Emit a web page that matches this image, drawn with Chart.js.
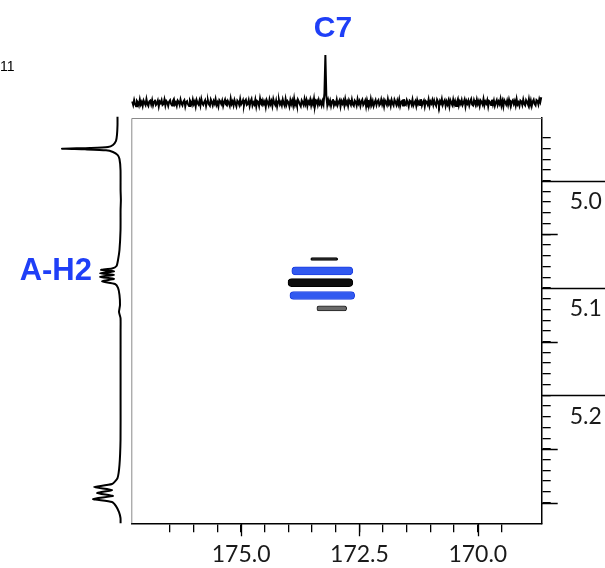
<!DOCTYPE html>
<html>
<head>
<meta charset="utf-8">
<script src="https://cdn.jsdelivr.net/npm/chart.js@4.4.1/dist/chart.umd.min.js"></script>
<style>
  html, body { margin: 0; padding: 0; background: #fff; }
  #wrap { position: relative; width: 605px; height: 568px; overflow: hidden; }
  #wrap canvas { position: absolute; left: 0; top: 0; }
</style>
</head>
<body>
<div id="wrap">
  <canvas id="hmbc" width="605" height="568" style="width:605px;height:568px"></canvas>
  <canvas id="carbon" width="605" height="568" style="width:605px;height:568px"></canvas>
  <canvas id="proton" width="605" height="568" style="width:605px;height:568px"></canvas>
</div>
<script>
// ---- spectral windows (ppm) ----
const carbonRange = [168.65, 177.32];      // F1, 13C
const protonRange = [4.9416, 5.3193];      // F2, 1H
const carbonLabelTicks = [175.0, 172.5, 170.0];
const protonLabelTicks = [5.0, 5.1, 5.2];

// ---- cross peak C7 / A-H2: contour bands ----
const contourC13From = [173.53, 173.93, 174.01, 173.97, 173.40];
const contourC13To   = [172.96, 172.64, 172.64, 172.60, 172.77];
const contourH1      = [5.073, 5.084, 5.095, 5.107, 5.119];
const contourLevel   = [0, 1, 2, 1, 3];

// ---- 13C projection (relative intensity, % of C7) ----
const carbonTraceStart = 177.30;
const carbonTraceStep = 0.02;
const carbonTrace = [
   3,-4, 6,-2,-7, 4, 1,-5, 7,-3, 2,-6, 5, 0,-4, 8,-2,-6, 3, 5,
  -3, 6,-5, 2, 7,-4,-1, 5,-7, 3, 0, 6,-4,-2, 7,-5, 4, 1,-6, 3,
   6,-2,-5, 4, 8,-3, 1,-6, 5, 2,-4, 7,-1,-5, 3, 6,-7, 2, 4,-3,
  -6, 5, 1,-4, 7,-2, 3,-7, 6, 0,-3, 5,-5, 8,-1,-4, 2, 6,-6, 3,
   5,-3,-6, 7, 2,-5, 4,-1, 8,-4, 1,-7, 6, 3,-2, 5,-6, 2, 7,-3,
  -5, 4, 0,-6, 9,-2, 3,-5, 6,-1,-7, 5, 2,-4, 8,-3, 1, 6,-5, 4,
   7,-4,-2, 6,-6, 3, 8,-5, 1,-3, 7,-7, 4, 2,-6, 9,-1,-4, 5,-2,
   3,-8, 6, 1,-5, 7,-2, 4,-6, 8, 0,-4, 5,-7, 3, 6,-3, 2,-5, 7,
  -1,-6, 8,-3, 4, 1,-7, 6,-2, 5,-5, 9,-4, 2,-6, 7, 3,-3,-7, 5,
   1,-4, 8,-2, 6,-6, 3,-1, 7,-5, 4,-3, 9,-7, 2, 5,-4, 6,-2, 3,
  -5, 4,-3,20,100,15,-4, 6,-2, 5,-6, 3, 8,-5, 1,-3, 7,-4, 2, 6,
  -7, 4,-1, 5,-5, 8,-2, 3,-6, 6, 1,-4, 7,-3,-6, 5, 2,-5, 8,-1,
   4,-6, 3, 7,-4, 0, 5,-7, 6,-2, 2,-5, 8,-3, 4,-6, 1, 6,-4, 3,
   6,-5,-2, 7,-3, 4,-7, 5, 1,-4, 8,-2, 3,-6, 6,-1,-5, 7, 2,-4,
   5,-3, 7,-6, 2, 4,-5, 8,-2,-4, 6, 1,-7, 5, 3,-3, 7,-5, 0, 4,
  -6, 6,-2, 3,-4, 8,-5, 1, 5,-7, 4, 2,-3, 7,-6, 3,-1, 6,-4, 5,
  -2,-6, 7, 3,-5, 4,-1, 8,-4, 2, 6,-6, 3,-3, 5,-7, 6, 1,-4, 7,
  -3, 4,-6, 2, 8,-5, 3,-2, 6,-4, 1, 7,-7, 4,-1, 5,-5, 3, 8,-3,
  -5, 6, 0,-4, 7,-2, 4,-6, 5, 2,-3, 8,-5, 3,-1, 6,-7, 4, 2,-4,
   7,-3, 5,-6, 1, 6,-4, 3,-2, 8,-5, 4,-7, 6, 2,-3, 5,-4, 7,-1,
  -6, 3, 6,-2, 4,-5, 8,-3, 1,-6, 5, 3,-4, 7,-2,-5, 6, 2,-3, 8,
  -4, 5,-6, 3, 7,-2,-5, 6, 4,-3, 8, 2,12
];

// ---- 1H projection (ppm, relative intensity %) ----
const protonTracePpm = [
  4.9404, 4.9481, 4.9574, 4.9630, 4.9667, 4.9686, 4.9695, 4.9702, 4.9708, 4.9717,
  4.9733, 4.9760, 4.9798, 4.9900, 5.0087, 5.0180, 5.0273, 5.0460, 5.0646, 5.0739,
  5.0795, 5.0818, 5.0832, 5.0846, 5.0863, 5.0878, 5.0897, 5.0915, 5.0939, 5.0963,
  5.1000, 5.1065, 5.1158, 5.1224, 5.1280, 5.1390, 5.1670, 5.2043, 5.2416, 5.2650,
  5.2771, 5.2827, 5.2855, 5.2883, 5.2911, 5.2939, 5.2967, 5.2995, 5.3033, 5.3089,
  5.3145, 5.3193
];
const protonTraceInt = [
   4.3,  4.3,  5.2,  6.9, 12.1, 20.7, 51.7, 100, 60.3, 24.1,
  12.1,  4.3,  0.9, -0.9, -1.0, -1.5, -1.0, -0.9,  0.9,  3.4,
   6.0, 13.8, 32.8, 10.3, 34.5, 10.3, 34.5, 10.3, 31.0,  8.6,
   3.4,  0.9,  0.0,  1.7, -0.9, -1.0, -1.0, -1.0, -0.9,  0.9,
   4.3, 13.8, 44.8, 13.8, 39.7, 12.1, 46.6, 13.8,  6.9,  1.7,
  -0.9, -1.0
];

// ---- styling ----
const levelStyles = [
  { fill: '#161616', edge: '#000000', thickness: 3 },
  { fill: '#3159f0', edge: '#1c3fe0', thickness: 8 },
  { fill: '#0d0d0d', edge: '#000000', thickness: 8 },
  { fill: '#6a6a6a', edge: '#222222', thickness: 5 }
];
const labelBlue = '#1f3ff7';
const tickFont = { family: 'Lato, "Open Sans", sans-serif', size: 23 };

const W = 605, H = 568;
const AREA = { left: 131.3, right: 541.7, top: 118, bottom: 523.3 };

const isMultiple = (v, step) => Math.abs(v / step - Math.round(v / step)) < 1e-6;
const inList = (v, list) => list.some(t => Math.abs(t - v) < 1e-6);
const keepGrid = step => scale => {
  scale.ticks = scale.ticks.filter(t => isMultiple(t.value, step));
};

// longer tick marks, open frame sides and peak labels
const hmbcDecor = {
  id: 'hmbcDecor',
  afterDraw(chart) {
    const { ctx, chartArea: a, scales: { x, y } } = chart;
    ctx.save();
    ctx.strokeStyle = '#8a8a8a';
    ctx.lineWidth = 1;
    ctx.beginPath();
    ctx.moveTo(a.left + 0.5, a.bottom);
    ctx.lineTo(a.left + 0.5, a.top + 0.5);
    ctx.lineTo(a.right, a.top + 0.5);
    ctx.stroke();

    ctx.strokeStyle = '#000';
    ctx.lineWidth = 1.3;
    ctx.beginPath();
    x.ticks.forEach(t => {
      if (inList(t.value, carbonLabelTicks)) {
        const px = Math.round(x.getPixelForValue(t.value)) + 0.5;
        ctx.moveTo(px, a.bottom);
        ctx.lineTo(px, a.bottom + 13);
      }
    });
    y.ticks.forEach(t => {
      const py = Math.round(y.getPixelForValue(t.value)) + 0.5;
      if (inList(t.value, protonLabelTicks)) {
        ctx.moveTo(a.right, py);
        ctx.lineTo(chart.width, py);
      } else if (isMultiple(t.value, 0.05)) {
        ctx.moveTo(a.right, py);
        ctx.lineTo(a.right + 16, py);
      }
    });
    ctx.stroke();

    ctx.fillStyle = labelBlue;
    ctx.font = 'bold 30px "Liberation Sans", Arial, sans-serif';
    ctx.textBaseline = 'middle';
    ctx.textAlign = 'center';
    ctx.fillText('C7', x.getPixelForValue(173.06), 29);
    ctx.font = 'bold 31px "Liberation Sans", Arial, sans-serif';
    ctx.textAlign = 'right';
    ctx.fillText('A-H2', 92, y.getPixelForValue(5.0848));

    ctx.fillStyle = '#000';
    ctx.font = '14px "Liberation Sans", Arial, sans-serif';
    ctx.textAlign = 'left';
    ctx.fillText('11', 0, 67);
    ctx.restore();
  }
};

// ---- 2D map ----
const contourSets = levelStyles.map((st, lv) => ({
  data: contourH1
    .map((h, i) => ({ y: h, x: [contourC13From[i], contourC13To[i]], lv: contourLevel[i] }))
    .filter(p => p.lv === lv),
  backgroundColor: st.fill,
  borderColor: st.edge,
  borderWidth: 1,
  barThickness: st.thickness,
  borderRadius: 40,
  borderSkipped: false,
  grouped: false
}));

new Chart(document.getElementById('hmbc'), {
  type: 'bar',
  data: { datasets: contourSets },
  options: {
    indexAxis: 'y',
    responsive: false,
    animation: false,
    events: [],
    layout: { padding: { left: AREA.left, top: AREA.top, right: 0, bottom: 0 } },
    plugins: { legend: { display: false }, tooltip: { enabled: false } },
    scales: {
      x: {
        type: 'linear', position: 'bottom', reverse: true, offset: false,
        min: carbonRange[0], max: carbonRange[1],
        afterFit: s => { s.height = H - AREA.bottom; },
        afterBuildTicks: keepGrid(0.5),
        border: { color: '#000', width: 1.5 },
        grid: { offset: false, drawOnChartArea: false, drawTicks: true, tickLength: 9, color: '#000', lineWidth: 1.3 },
        ticks: {
          stepSize: 0.5, autoSkip: false, maxRotation: 0, padding: 8,
          color: '#1a1a1a', font: tickFont,
          callback: v => inList(v, carbonLabelTicks) ? v.toFixed(1) : ''
        }
      },
      y: {
        type: 'linear', position: 'right', reverse: true, offset: false,
        min: protonRange[0], max: protonRange[1],
        afterFit: s => { s.width = W - AREA.right; },
        afterBuildTicks: keepGrid(0.01),
        border: { color: '#000', width: 1.5 },
        grid: { offset: false, drawOnChartArea: false, drawTicks: true, tickLength: 9, color: '#000', lineWidth: 1.3 },
        ticks: {
          stepSize: 0.01, autoSkip: false, padding: 19, labelOffset: 21,
          color: '#1a1a1a', font: tickFont,
          callback: v => inList(v, protonLabelTicks) ? v.toFixed(1) : ''
        }
      }
    }
  },
  plugins: [hmbcDecor]
});

// ---- 13C projection on top ----
new Chart(document.getElementById('carbon'), {
  type: 'scatter',
  data: {
    datasets: [{
      data: carbonTrace.map((v, i) => ({ x: carbonTraceStart - i * carbonTraceStep, y: v })),
      showLine: true, borderColor: '#000', borderWidth: 2, pointRadius: 0, clip: false
    }]
  },
  options: {
    responsive: false, animation: false, events: [],
    layout: { padding: { left: AREA.left, right: W - AREA.right, top: 40, bottom: H - AREA.top } },
    plugins: { legend: { display: false }, tooltip: { enabled: false } },
    scales: {
      x: { type: 'linear', display: false, reverse: true, min: carbonRange[0], max: carbonRange[1] },
      y: { type: 'linear', display: false, min: -31.25, max: 131.25 }
    }
  }
});

// ---- 1H projection on the left ----
new Chart(document.getElementById('proton'), {
  type: 'scatter',
  data: {
    datasets: [{
      data: protonTracePpm.map((p, i) => ({ x: protonTraceInt[i], y: p })),
      showLine: true, borderColor: '#000', borderWidth: 2, pointRadius: 0, tension: 0.2, clip: false
    }]
  },
  options: {
    responsive: false, animation: false, events: [],
    layout: { padding: { left: 0, right: W - 131, top: AREA.top, bottom: H - AREA.bottom } },
    plugins: { legend: { display: false }, tooltip: { enabled: false } },
    scales: {
      x: { type: 'linear', display: false, reverse: true, min: -18.97, max: 206.9 },
      y: { type: 'linear', display: false, reverse: true, min: protonRange[0], max: protonRange[1] }
    }
  }
});
</script>
</body>
</html>
